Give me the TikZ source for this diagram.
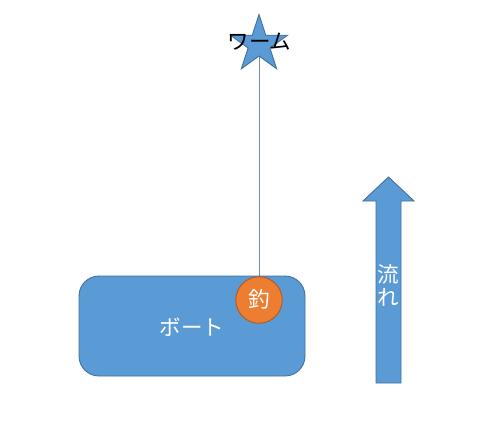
\documentclass[tikz,border=0pt]{standalone}
\usepackage{fontspec}
\setmainfont{Noto Sans CJK JP}
\usetikzlibrary{shapes.geometric,backgrounds}
\definecolor{bfill}{HTML}{5B9BD5}
\definecolor{bline}{HTML}{41719C}
\definecolor{ofill}{HTML}{ED7D31}
\definecolor{oline}{HTML}{AE5A21}
\definecolor{tline}{HTML}{6F8FAF}
\tikzset{
  bluebox/.style={fill=bfill, draw=bline, line width=0.9pt},
  lbl/.style={font=\fontsize{21.5}{25}\selectfont, inner sep=0pt},
}
\begin{document}
\begin{tikzpicture}[x=1pt,y=-1pt]
\useasboundingbox (0,0) rectangle (478,420);
% star
\node[bluebox, star, star points=5, star point ratio=2.618, minimum size=60pt, inner sep=0pt] (star) at (259,44.5) {};
\node[lbl, text=black] (worm) at (259.5,42) {ワーム};
% boat
\node[bluebox, rectangle, rounded corners=20pt, minimum width=226pt, minimum height=100pt, inner sep=0pt] (boat) at (192,326) {};
\node[lbl, text=white] (boatlbl) at (192,327) {ボート};
% hook
\node[circle, fill=ofill, draw=oline, line width=0.9pt, minimum size=46.5pt, inner sep=0pt] (hook) at (259,300) {};
\node[lbl, text=white] (hooklbl) at (259,299) {釣};
% fishing line
\begin{scope}[on background layer]
\fill[white] (0,0) rectangle (478,420);
\draw[tline, line width=0.7pt] (star.center) -- (hook.center);
\end{scope}
% flow arrow
\draw[bluebox, line join=miter] (376,383) -- (376,201) -- (363,201) -- (388.5,177) -- (414,201) -- (401,201) -- (401,383) -- cycle;
\node[lbl, text=white, align=center] (flow) at (388.5,285) {流\\[-2pt]れ};
\end{tikzpicture}
\end{document}
